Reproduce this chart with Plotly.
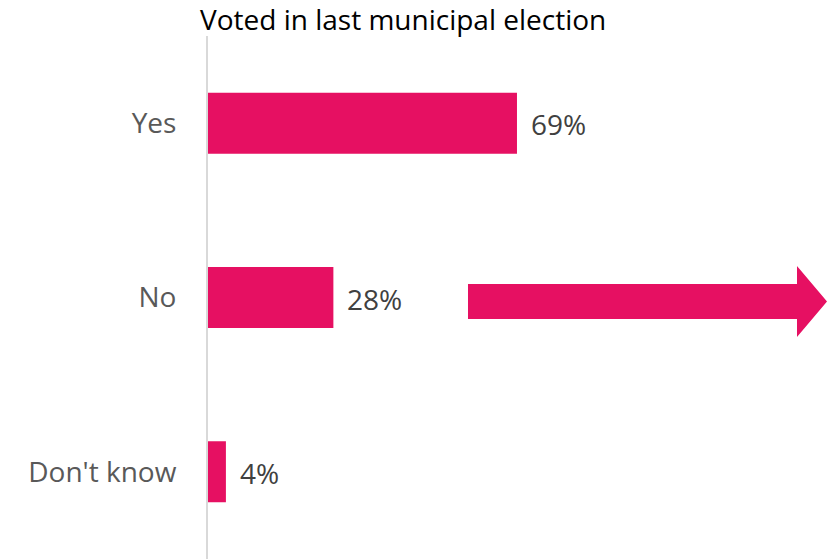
import plotly.graph_objects as go

categories = ["Yes", "No", "Don't know"]
values = [69, 28, 4]
labels = ["69%", "28%", "4%"]
title_text = "Voted in last municipal election"

BAR = "#E61062"
FONT = "Open Sans, sans-serif"
W, H = 827, 559
ML, MR, MT, MB = 208, 0, 36, 0
PX_PER_UNIT = 4.478
xmax = (W - ML - MR) / PX_PER_UNIT

fig = go.Figure()
fig.add_trace(go.Bar(
    y=categories, x=values, orientation="h",
    marker=dict(color=BAR, line=dict(width=0)),
    hoverinfo="skip",
))

for c, v, t in zip(categories, values, labels):
    fig.add_annotation(x=v, y=c, text=t, showarrow=False, xanchor="left",
                       xshift=12, yshift=-1, font=dict(family=FONT, size=28, color="#404040"))

# decorative arrow (pixel geometry converted to paper coords)
def px(x):
    return (x - ML) / (W - ML - MR)
def py(y):
    return (H - MB - y) / (H - MT - MB)

pts = [(468, 284), (797, 284), (797, 266), (827, 301.5), (797, 337), (797, 319), (468, 319)]
path = "M " + " L ".join(f"{px(a):.5f},{py(b):.5f}" for a, b in pts) + " Z"
fig.add_shape(type="path", path=path, xref="paper", yref="paper",
              fillcolor=BAR, line=dict(width=0), layer="above")

fig.add_annotation(x=px(402.5), y=1, xref="paper", yref="paper", xanchor="center", yanchor="bottom",
                   text=title_text, showarrow=False, yshift=-4,
                   font=dict(family=FONT, size=28, color="#000000"))

fig.update_layout(
    width=W, height=H,
    margin=dict(l=ML, r=MR, t=MT, b=MB),
    plot_bgcolor="white", paper_bgcolor="white",
    bargap=0.65, showlegend=False,
    xaxis=dict(range=[0, xmax], visible=False, fixedrange=True),
    yaxis=dict(autorange=False, range=[2.5, -0.5], showline=True, linecolor="#D9D9D9", linewidth=2,
               ticks="", showgrid=False, zeroline=False, ticklabelstandoff=24,
               tickfont=dict(family=FONT, size=28, color="#595959")),
)

fig.write_html("out.html")
